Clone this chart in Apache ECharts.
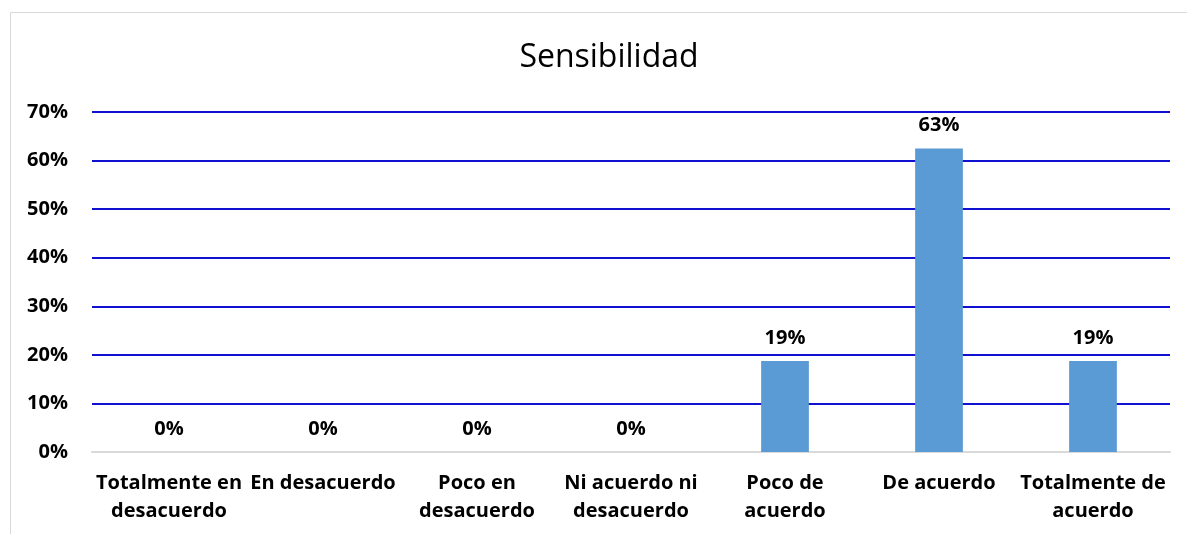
<!DOCTYPE html>
<html>
<head>
<meta charset="utf-8">
<script src="https://cdn.jsdelivr.net/npm/echarts@6/dist/echarts.min.js"></script>
<style>
html,body{margin:0;padding:0;background:#fff;overflow:hidden;}
#chart{width:1187px;height:534px;}
</style>
</head>
<body>
<div id="chart"></div>
<script>
const titleText = 'Sensibilidad';
const categories = [
  'Totalmente en\ndesacuerdo',
  'En desacuerdo',
  'Poco en\ndesacuerdo',
  'Ni acuerdo ni\ndesacuerdo',
  'Poco de\nacuerdo',
  'De acuerdo',
  'Totalmente de\nacuerdo'
];
const values = [0, 0, 0, 0, 18.75, 62.5, 18.75];
const yMin = 0, yMax = 70, yStep = 10;

const FONT = 'Open Sans';
const chart = echarts.init(document.getElementById('chart'));
chart.setOption({
  animation: false,
  backgroundColor: '#fff',
  title: {
    text: titleText,
    left: 604,
    textAlign: 'center',
    top: 37,
    textStyle: { fontFamily: FONT, fontSize: 32, fontWeight: 'normal', color: '#000' }
  },
  graphic: [{
    type: 'rect',
    shape: { x: 10.5, y: 12.5, width: 2000, height: 1000 },
    style: { fill: 'none', stroke: '#d9d9d9', lineWidth: 1 },
    silent: true, z: -10
  }],
  grid: { left: 92, right: 17, top: 112, bottom: 82, containLabel: false },
  xAxis: {
    type: 'category',
    data: categories,
    axisLine: { lineStyle: { color: '#d9d9d9', width: 2 } },
    axisTick: { show: false },
    axisLabel: {
      interval: 0, margin: 17, lineHeight: 28,
      fontFamily: FONT, fontSize: 20, fontWeight: 'bold', color: '#000'
    }
  },
  yAxis: {
    type: 'value',
    min: yMin, max: yMax, interval: yStep,
    axisLine: { show: false },
    axisTick: { show: false },
    splitLine: { lineStyle: { color: '#1010d0', width: 2 } },
    axisLabel: {
      margin: 24, formatter: '{value}%',
      fontFamily: FONT, fontSize: 20, fontWeight: 'bold', color: '#000'
    }
  },
  series: [{
    type: 'bar',
    data: values,
    barWidth: '31%',
    itemStyle: { color: '#5b9bd5' },
    label: {
      show: true, position: 'top', distance: 13,
      formatter: p => Math.round(p.value) + '%',
      fontFamily: FONT, fontSize: 20, fontWeight: 'bold', color: '#000'
    }
  }]
});
</script>
</body>
</html>
